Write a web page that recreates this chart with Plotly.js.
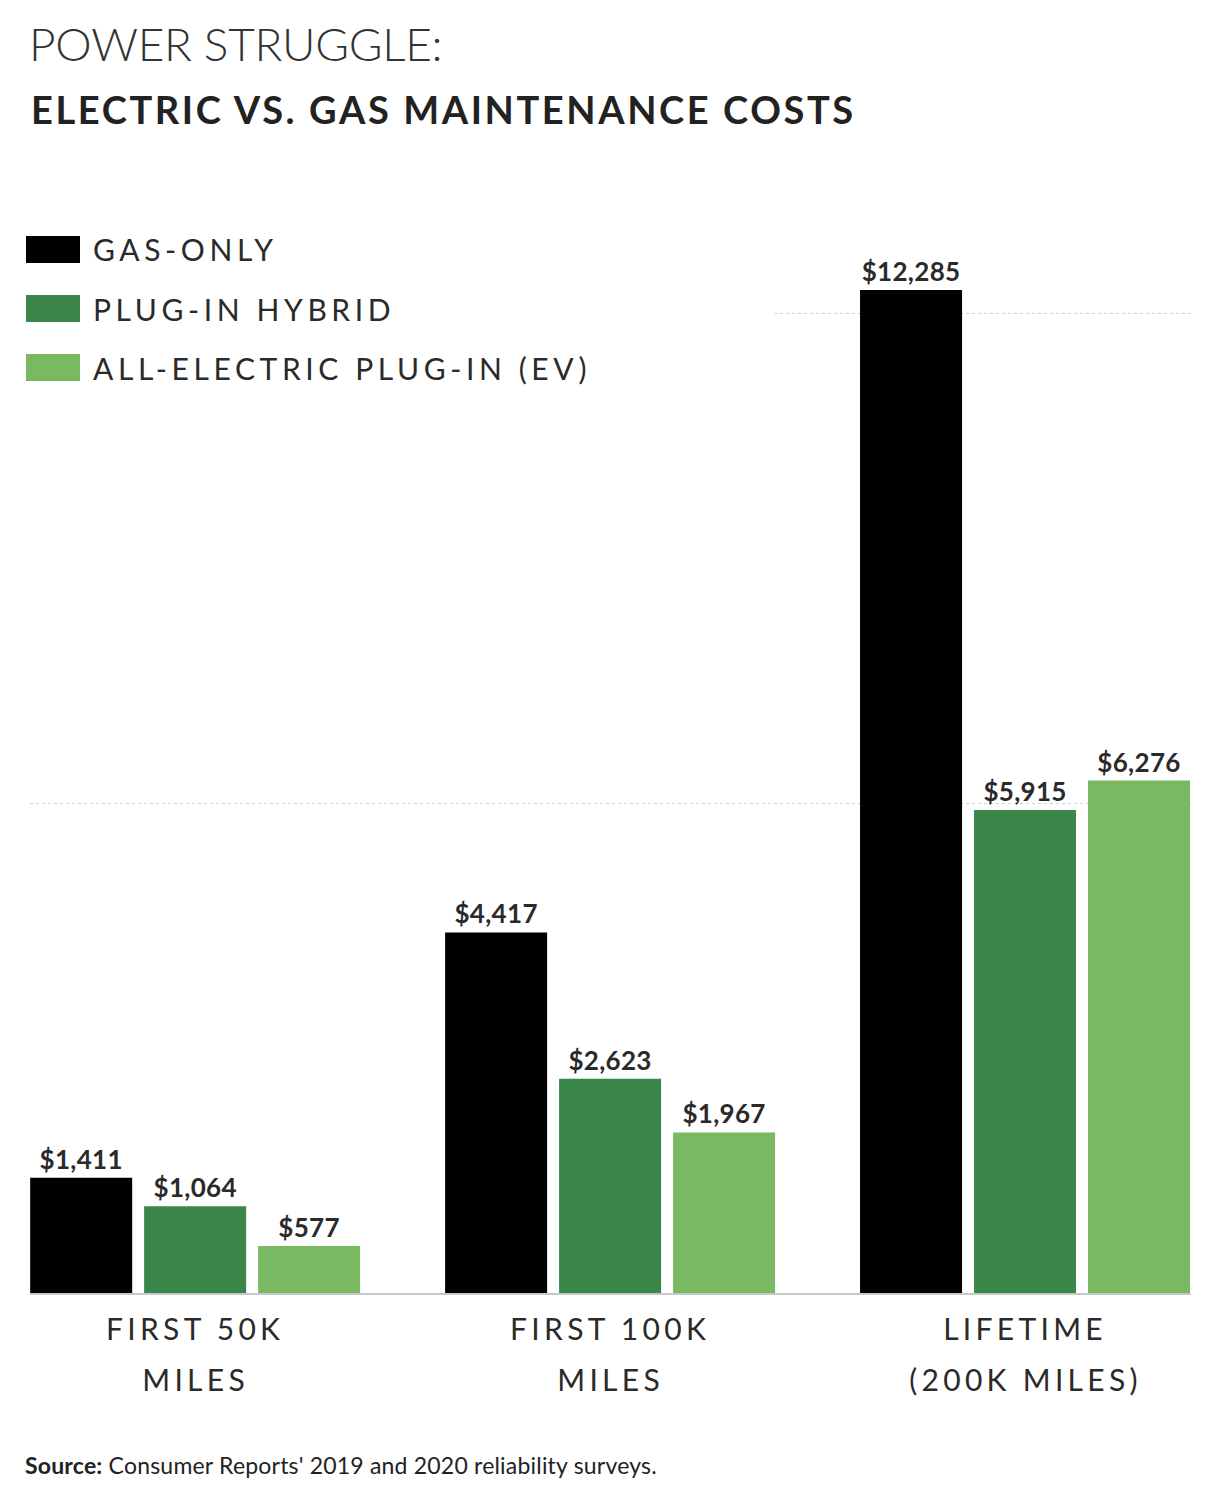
<!DOCTYPE html>
<html>
<head>
<meta charset="utf-8">
<script src="https://cdn.plot.ly/plotly-3.0.1.min.js"></script>
<style>
  html, body { margin: 0; padding: 0; background: #fff; }
  #chart { width: 1229px; height: 1500px; }
  .gtitle { letter-spacing: -0.3px; }
  .annotation[data-index="0"] text { letter-spacing: 2.6px; }
  .annotation[data-index="1"] text { letter-spacing: 0.2px; }
  .annotation[data-index="2"] text,
  .annotation[data-index="3"] text,
  .annotation[data-index="4"] text { letter-spacing: 4.6px; }
  .annotation[data-index="5"] text,
  .annotation[data-index="6"] text,
  .annotation[data-index="7"] text { letter-spacing: 4.3px; }
  .xtick text { letter-spacing: 4.3px; }
  .bartext { letter-spacing: 0.3px; }
</style>
</head>
<body>
<div id="chart"></div>
<script>
// ---- data ----
const categories = ["FIRST 50K MILES", "FIRST 100K MILES", "LIFETIME (200K MILES)"];
const labelLine1 = ["FIRST 50K", "FIRST 100K", "LIFETIME"];
const labelLine2 = ["MILES", "MILES", "(200K MILES)"];
const seriesNames = ["GAS-ONLY", "PLUG-IN HYBRID", "ALL-ELECTRIC PLUG-IN (EV)"];
const gasOnly = [1411, 4417, 12285];
const plugInHybrid = [1064, 2623, 5915];
const allElectric = [577, 1967, 6276];
const seriesValues = [gasOnly, plugInHybrid, allElectric];
const seriesColors = ["#000000", "#3b864a", "#79b961"];
const titleLine1 = "POWER STRUGGLE:";
const titleLine2 = "ELECTRIC VS. GAS MAINTENANCE COSTS";
const sourceText = "<b>Source:</b> Consumer Reports' 2019 and 2020 reliability surveys.";

// ---- layout geometry (pixels) ----
const W = 1229, H = 1500;
const M = { l: 30, r: 38, t: 150, b: 207 };
const plotW = W - M.l - M.r, plotH = H - M.t - M.b;
const px2x = p => (p - M.l) / plotW;
const px2y = p => (H - M.b - p) / plotH;
const xRange = [-0.398, 2.4];

const FONT = "Lato, 'Open Sans', sans-serif";
const TXT = "#2a2a2a";

const traces = seriesNames.map((name, i) => ({
  type: "bar",
  name: name,
  x: categories,
  y: seriesValues[i],
  marker: { color: seriesColors[i], line: { width: 0 } },
  texttemplate: "$%{y:,}",
  textposition: "outside",
  constraintext: "none",
  cliponaxis: false,
  textfont: { family: FONT, size: 26, color: TXT, weight: "bold" },
  hoverinfo: "skip"
}));

const legendRowsY = [249.5, 308.5, 367.5];
const shapes = seriesNames.map((n, i) => ({
  type: "rect", xref: "paper", yref: "paper",
  x0: px2x(26), x1: px2x(80),
  y0: px2y(legendRowsY[i] + 13.5), y1: px2y(legendRowsY[i] - 13.5),
  fillcolor: seriesColors[i], line: { width: 0 }
}));
// partial cover of the top gridline, as in the reference
shapes.push({
  type: "rect", xref: "x", yref: "y", layer: "between",
  x0: xRange[0], x1: 1.397, y0: 11850, y1: 12150,
  fillcolor: "#ffffff", line: { width: 0 }
});

const annotations = [
  { text: titleLine2, xref: "paper", yref: "paper", x: px2x(29), y: px2y(109),
    xanchor: "left", yanchor: "middle", align: "left", showarrow: false,
    font: { family: FONT, size: 38, color: "#222", weight: "bold" } },
  { text: sourceText, xref: "paper", yref: "paper", x: px2x(23), y: px2y(1465),
    xanchor: "left", yanchor: "middle", align: "left", showarrow: false,
    font: { family: FONT, size: 23, color: "#222" } }
].concat(seriesNames.map((n, i) => ({
  text: n, xref: "paper", yref: "paper", x: px2x(91), y: px2y(legendRowsY[i]),
  xanchor: "left", yanchor: "middle", align: "left", showarrow: false,
  font: { family: FONT, size: 30, color: "#2a2a2a" }
}))).concat(categories.map((c, i) => ({
  text: labelLine2[i], xref: "x", yref: "paper", x: c, y: px2y(1379),
  xanchor: "center", yanchor: "middle", align: "center", showarrow: false,
  font: { family: FONT, size: 30, color: "#2a2a2a" }
})));

const layout = {
  width: W, height: H,
  margin: M,
  paper_bgcolor: "#fff", plot_bgcolor: "#fff",
  showlegend: false,
  barmode: "group",
  bargap: 0.176,
  bargroupgap: 0.105,
  title: {
    text: titleLine1,
    xref: "container", yref: "container",
    x: 29 / W, xanchor: "left",
    y: 1 - 45 / H, yanchor: "middle",
    font: { family: FONT, size: 46, color: "#333", weight: 300 }
  },
  xaxis: {
    type: "category",
    categoryarray: categories,
    range: xRange,
    tickmode: "array", tickvals: categories, ticktext: labelLine1,
    ticks: "", showgrid: false, zeroline: false,
    showline: true, linecolor: "#c8c8c8", linewidth: 2,
    ticklabelstandoff: 9,
    tickfont: { family: FONT, size: 30, color: "#2a2a2a" },
    fixedrange: true
  },
  yaxis: {
    range: [0, 14000],
    tickmode: "linear", tick0: 0, dtick: 6000,
    showticklabels: false, ticks: "",
    showgrid: true, gridcolor: "#cfcfcf", gridwidth: 1, griddash: "dot",
    zeroline: false, showline: false,
    fixedrange: true
  },
  shapes: shapes,
  annotations: annotations
};

Plotly.newPlot("chart", traces, layout, { displayModeBar: false, staticPlot: true });
</script>
</body>
</html>
